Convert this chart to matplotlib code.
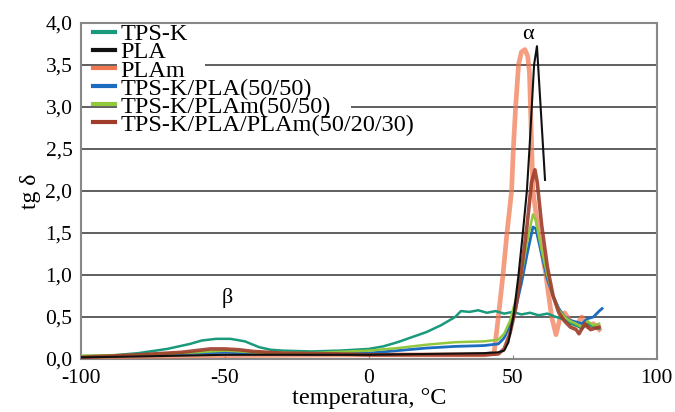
import matplotlib.pyplot as plt
from matplotlib.patches import Rectangle
from matplotlib.ticker import FuncFormatter

plt.rcParams['font.family'] = ['Liberation Serif', 'DejaVu Serif']
plt.rcParams['axes.unicode_minus'] = False

# TPS-K
t_tpsk = [-100, -90, -80, -70, -62, -58, -53, -48, -43, -38, -34, -30, -20, -10, 0, 5, 10, 15, 20, 25, 30, 32,
          35, 38, 41, 44, 47, 50, 53, 56, 59, 62, 65, 68, 70, 72, 74, 76, 78, 80]
y_tpsk = [0.03, 0.04, 0.07, 0.12, 0.18, 0.22, 0.24, 0.24, 0.21, 0.14, 0.11, 0.10, 0.09, 0.10, 0.12, 0.15, 0.20, 0.26, 0.32, 0.40, 0.50, 0.57,
          0.56, 0.58, 0.55, 0.57, 0.54, 0.56, 0.53, 0.55, 0.52, 0.54, 0.50, 0.47, 0.42, 0.40, 0.36, 0.42, 0.38, 0.36]

# PLA
t_pla = [-100, -80, -50, -20, 0, 20, 40, 45, 47, 48.5, 50.2, 52, 53.5, 54.9, 55.8, 56.6, 57.4, 58.4, 61.2]
y_pla = [0.02, 0.03, 0.05, 0.05, 0.05, 0.06, 0.07, 0.08, 0.10, 0.20, 0.50, 1.00, 1.50, 2.00, 2.50, 3.00, 3.50, 3.72, 2.13]

# PLAm
t_plam = [-100, -80, -50, 0, 20, 40, 43.5, 45, 46.6, 48, 49.6, 50.2, 51, 52, 53, 54.2, 55.2, 55.8, 56.5, 57,
          59, 61.5, 63.5, 65, 66.5, 68, 70, 72, 74, 76, 78, 80]
y_plam = [0.02, 0.03, 0.04, 0.05, 0.05, 0.05, 0.07, 0.50, 1.00, 1.50, 2.00, 2.50, 3.00, 3.50, 3.65, 3.68, 3.60, 3.40, 2.60, 2.00,
          1.50, 1.00, 0.50, 0.29, 0.50, 0.55, 0.45, 0.40, 0.50, 0.38, 0.42, 0.35]

# TPS-K/PLA(50/50)
t_tp = [-100, -80, -60, -50, -40, -20, 0, 10, 20, 30, 40, 45, 47, 49, 51, 53, 55, 57, 58, 60, 62, 64, 66, 68,
        70, 72, 74, 76, 78, 80, 81]
y_tp = [0.03, 0.05, 0.07, 0.08, 0.07, 0.06, 0.07, 0.10, 0.13, 0.15, 0.16, 0.18, 0.25, 0.40, 0.60, 0.90, 1.25, 1.57, 1.55, 1.25, 0.95, 0.75, 0.60, 0.50,
        0.46, 0.44, 0.42, 0.48, 0.50, 0.57, 0.60]

# TPS-K/PLAm(50/50)
t_tpm = [-100, -80, -60, -50, -40, -20, 0, 10, 20, 30, 40, 45, 47, 49, 51, 53, 55, 57, 58, 60, 62, 64, 66, 68,
         70, 72, 74, 76, 78, 80]
y_tpm = [0.04, 0.05, 0.08, 0.10, 0.08, 0.07, 0.10, 0.13, 0.17, 0.20, 0.21, 0.23, 0.30, 0.45, 0.70, 1.00, 1.40, 1.72, 1.65, 1.30, 1.00, 0.75, 0.58, 0.50,
         0.45, 0.42, 0.38, 0.45, 0.40, 0.42]

# TPS-K/PLA/PLAm(50/20/30)
t_tpp = [-100, -80, -65, -55, -50, -45, -40, -30, -10, 0, 20, 40, 45, 47, 49, 51, 53, 55, 56.5, 57.7, 58.5, 60, 62, 64, 66, 68,
         70, 72, 73, 75, 77, 80]
y_tpp = [0.02, 0.05, 0.08, 0.12, 0.12, 0.11, 0.09, 0.07, 0.06, 0.05, 0.05, 0.05, 0.06, 0.12, 0.30, 0.60, 1.05, 1.60, 2.10, 2.25, 2.10, 1.60, 1.10, 0.75, 0.55, 0.45,
         0.38, 0.35, 0.30, 0.42, 0.35, 0.38]

fig = plt.figure(figsize=(6.75, 4.12), dpi=100)
ax = fig.add_axes([0.1196, 0.1286, 0.8534, 0.8164])

# kolejnosc rysowania: PLAm pod spodem, PLA na wierzchu
l_plam, = ax.plot(t_plam, y_plam, color='#f07850', lw=3.4, alpha=0.72, label='PLAm', zorder=3)
l_tpsk, = ax.plot(t_tpsk, y_tpsk, color='#1a9a7c', lw=1.8, label='TPS-K', zorder=4)
l_tp, = ax.plot(t_tp, y_tp, color='#1e6cc0', lw=2.0, label='TPS-K/PLA(50/50)', zorder=4)
l_tpm, = ax.plot(t_tpm, y_tpm, color='#92c83e', lw=1.8, label='TPS-K/PLAm(50/50)', zorder=4)
l_tpp, = ax.plot(t_tpp, y_tpp, color='#a03c2a', lw=2.6, alpha=0.9, label='TPS-K/PLA/PLAm(50/20/30)', zorder=4)
l_pla, = ax.plot(t_pla, y_pla, color='#111111', lw=1.5, label='PLA', zorder=5)

ax.set_xlim(-100, 100)
ax.set_ylim(0, 4)
ax.set_xticks([-100, -50, 0, 50, 100])
ax.set_yticks([0, 0.5, 1.0, 1.5, 2.0, 2.5, 3.0, 3.5, 4.0])
ax.yaxis.set_major_formatter(FuncFormatter(lambda v, p: f'{v:.1f}'.replace('.', ',')))
ax.grid(axis='y', color='#444444', lw=1.2)
ax.set_axisbelow(True)
ax.tick_params(axis='x', direction='in', length=3, color='#888888', labelsize=15.5, pad=7)
ax.tick_params(axis='y', length=0, labelsize=15.5, pad=6)
for s in ax.spines.values():
    s.set_color('#888888')
    s.set_linewidth(1.5)

ax.set_xlabel('temperatura, °C', fontsize=17.5, labelpad=0)
ax.set_ylabel('tg δ', fontsize=17, labelpad=3)

ax.text(55.3, 3.86, 'α', fontsize=16, ha='center', va='center')
ax.text(-49, 0.73, 'β', fontsize=16, ha='center', va='center')

leg = ax.legend(handles=[l_tpsk, l_pla, l_plam, l_tp, l_tpm, l_tpp], loc='upper left',
                bbox_to_anchor=(0.022, 0.998), frameon=False, fontsize=17.5, handlelength=0.9,
                handletextpad=0.2, labelspacing=-0.16, borderaxespad=0, borderpad=0)
for h in leg.legend_handles:
    h.set_linewidth(3)
    h.set_alpha(1)

# biale tla pod opisami legendy (zaslaniaja tylko linie siatki)
fig.canvas.draw()
r = fig.canvas.get_renderer()
inv = ax.transAxes.inverted()
for t in leg.get_texts():
    bb = t.get_window_extent(r).transformed(inv)
    ax.add_patch(Rectangle((bb.x0 - 0.005, bb.y0 + 0.01), bb.width + 0.04, bb.height - 0.02,
                           transform=ax.transAxes, facecolor='white', edgecolor='none', zorder=1))

plt.savefig('out.png', dpi=100, facecolor='white')
